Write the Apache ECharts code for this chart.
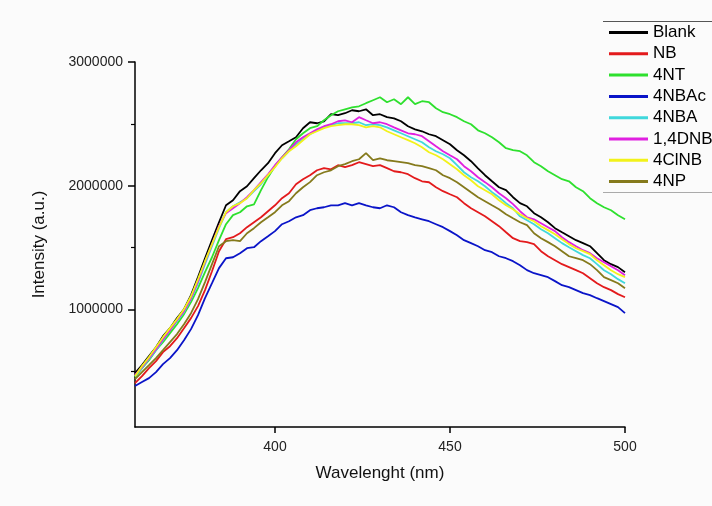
<!DOCTYPE html>
<html>
<head>
<meta charset="utf-8">
<script src="https://cdn.jsdelivr.net/npm/echarts@6/dist/echarts.min.js"></script>
<style>
html,body{margin:0;padding:0;background:#fbfbfb;}
#c{width:712px;height:506px;}
</style>
</head>
<body>
<div id="c"></div>
<script>
const wavelengths = [360,362,364,366,368,370,372,374,376,378,380,382,384,386,388,390,392,394,396,398,400,402,404,406,408,410,412,414,416,418,420,422,424,426,428,430,432,434,436,438,440,442,444,446,448,450,452,454,456,458,460,462,464,466,468,470,472,474,476,478,480,482,484,486,488,490,492,494,496,498,500];

const blank = [486000,550000,623000,695000,784000,849000,930000,1002000,1116000,1261000,1414000,1560000,1705000,1842000,1883000,1956000,1996000,2061000,2125000,2182000,2263000,2327000,2359000,2392000,2465000,2513000,2505000,2521000,2578000,2570000,2586000,2610000,2602000,2618000,2570000,2578000,2554000,2545000,2521000,2481000,2456000,2440000,2416000,2400000,2368000,2335000,2287000,2246000,2198000,2141000,2085000,2036000,1988000,1964000,1907000,1859000,1834000,1778000,1745000,1705000,1657000,1624000,1592000,1560000,1536000,1511000,1455000,1398000,1366000,1342000,1301000];

const nb = [405000,461000,526000,582000,655000,703000,768000,849000,930000,1027000,1156000,1309000,1471000,1568000,1584000,1616000,1665000,1705000,1745000,1794000,1842000,1899000,1939000,2012000,2053000,2085000,2125000,2142000,2133000,2166000,2150000,2166000,2190000,2174000,2158000,2166000,2142000,2117000,2109000,2093000,2061000,2036000,2028000,1988000,1956000,1931000,1907000,1859000,1818000,1786000,1753000,1713000,1673000,1624000,1576000,1552000,1544000,1528000,1471000,1430000,1398000,1366000,1342000,1318000,1293000,1253000,1212000,1180000,1156000,1124000,1099000];

const nt4 = [453000,526000,590000,671000,736000,809000,881000,962000,1059000,1172000,1301000,1422000,1560000,1689000,1762000,1786000,1834000,1850000,1964000,2069000,2158000,2230000,2295000,2376000,2424000,2465000,2481000,2529000,2570000,2602000,2618000,2634000,2642000,2667000,2691000,2715000,2675000,2699000,2659000,2715000,2659000,2683000,2675000,2626000,2594000,2578000,2554000,2521000,2497000,2448000,2424000,2392000,2351000,2303000,2287000,2279000,2246000,2190000,2158000,2117000,2085000,2053000,2036000,1988000,1956000,1899000,1859000,1826000,1802000,1762000,1729000];

const nbac4 = [381000,413000,445000,494000,558000,607000,671000,752000,841000,954000,1091000,1212000,1334000,1414000,1422000,1455000,1495000,1503000,1552000,1592000,1633000,1689000,1713000,1745000,1762000,1802000,1818000,1826000,1842000,1842000,1859000,1842000,1859000,1842000,1826000,1818000,1842000,1826000,1786000,1762000,1745000,1729000,1713000,1689000,1665000,1633000,1600000,1560000,1536000,1511000,1479000,1463000,1430000,1414000,1390000,1358000,1318000,1293000,1277000,1261000,1229000,1196000,1180000,1156000,1132000,1116000,1091000,1067000,1043000,1019000,970000];

const nba4 = [461000,526000,599000,671000,752000,833000,905000,978000,1083000,1212000,1366000,1511000,1657000,1786000,1834000,1867000,1899000,1956000,2012000,2085000,2158000,2222000,2279000,2335000,2376000,2416000,2448000,2472000,2489000,2505000,2505000,2505000,2513000,2489000,2497000,2489000,2472000,2448000,2424000,2400000,2376000,2351000,2311000,2279000,2254000,2222000,2166000,2109000,2069000,2036000,1996000,1948000,1907000,1859000,1818000,1753000,1721000,1689000,1649000,1616000,1576000,1536000,1503000,1471000,1439000,1414000,1366000,1317000,1285000,1245000,1212000];

const dnb14 = [469000,534000,607000,679000,760000,833000,914000,986000,1091000,1229000,1382000,1528000,1673000,1778000,1818000,1859000,1907000,1964000,2029000,2093000,2166000,2230000,2287000,2351000,2392000,2424000,2456000,2481000,2497000,2521000,2529000,2513000,2554000,2529000,2505000,2513000,2497000,2472000,2448000,2424000,2416000,2400000,2360000,2319000,2279000,2246000,2214000,2158000,2117000,2069000,2029000,1988000,1939000,1899000,1851000,1794000,1745000,1729000,1697000,1665000,1633000,1584000,1544000,1511000,1479000,1455000,1414000,1382000,1350000,1317000,1277000];

const clnb4 = [461000,542000,615000,695000,776000,849000,922000,1002000,1107000,1245000,1390000,1528000,1665000,1786000,1834000,1859000,1899000,1964000,2020000,2085000,2150000,2222000,2279000,2319000,2368000,2416000,2440000,2465000,2481000,2489000,2497000,2497000,2489000,2472000,2481000,2472000,2440000,2416000,2392000,2368000,2343000,2311000,2271000,2246000,2214000,2174000,2133000,2085000,2044000,1996000,1964000,1931000,1883000,1842000,1810000,1770000,1737000,1713000,1673000,1641000,1608000,1568000,1528000,1495000,1471000,1447000,1398000,1358000,1317000,1285000,1261000];

const np4 = [437000,494000,550000,607000,671000,736000,801000,881000,970000,1083000,1221000,1366000,1511000,1552000,1560000,1552000,1616000,1657000,1705000,1745000,1786000,1842000,1875000,1939000,1988000,2029000,2085000,2109000,2125000,2158000,2174000,2198000,2214000,2263000,2206000,2222000,2206000,2198000,2190000,2182000,2166000,2158000,2142000,2125000,2085000,2061000,2028000,1988000,1947000,1907000,1875000,1842000,1810000,1770000,1737000,1705000,1681000,1616000,1576000,1544000,1511000,1471000,1430000,1414000,1398000,1366000,1318000,1261000,1237000,1212000,1172000];

const seriesNames = ["Blank","NB","4NT","4NBAc","4NBA","1,4DNB","4ClNB","4NP"];
const seriesValues = [blank, nb, nt4, nbac4, nba4, dnb14, clnb4, np4];
const seriesColors = ["#000000","#e31a1c","#2ee02e","#0a14c8","#40d8dc","#e020e0","#f2f21a","#857a1c"];

const xTickLabels = [400, 450, 500];
const yTickLabels = [1000000, 2000000, 3000000];
const yMinorTicks = [500000, 1500000, 2500000];

const FONT = "'Liberation Sans', Arial, sans-serif";

const chart = echarts.init(document.getElementById('c'), null, {renderer: 'canvas'});

const series = seriesNames.map((name, i) => ({
  name: name,
  type: 'line',
  xAxisIndex: 0,
  yAxisIndex: 0,
  symbol: 'none',
  showSymbol: false,
  data: wavelengths.map((w, j) => [w, seriesValues[i][j]]),
  lineStyle: {width: 1.8, color: seriesColors[i]},
  itemStyle: {color: seriesColors[i]},
  emphasis: {disabled: true},
  z: 2 + i
}));

chart.setOption({
  animation: false,
  backgroundColor: '#fbfbfb',
  textStyle: {fontFamily: FONT},
  grid: {left: 135, top: 62, width: 490, height: 365, containLabel: false},
  xAxis: {
    type: 'value',
    min: 360,
    max: 500,
    name: 'Wavelenght (nm)',
    nameLocation: 'middle',
    nameGap: 38,
    nameTextStyle: {fontSize: 17, color: '#111', fontFamily: FONT},
    axisLine: {show: true, onZero: false, lineStyle: {color: '#000', width: 1.5}},
    axisTick: {show: true, inside: false, length: 6, customValues: xTickLabels, lineStyle: {color: '#000', width: 1.5}},
    axisLabel: {show: true, margin: 13, fontSize: 14, color: '#222', fontFamily: FONT, customValues: xTickLabels, formatter: v => String(v)},
    splitLine: {show: false}
  },
  yAxis: [{
    type: 'value',
    position: 'left',
    min: 50000,
    max: 3000000,
    name: 'Intensity (a.u.)',
    nameLocation: 'middle',
    nameGap: 87,
    nameRotate: 90,
    nameTextStyle: {fontSize: 17, color: '#111', fontFamily: FONT},
    axisLine: {show: true, onZero: false, lineStyle: {color: '#000', width: 1.5}},
    axisTick: {show: true, inside: false, length: 7, customValues: yTickLabels, lineStyle: {color: '#000', width: 1.5}},
    axisLabel: {show: true, margin: 12, fontSize: 14, color: '#222', fontFamily: FONT, customValues: yTickLabels, formatter: v => String(v)},
    splitLine: {show: false}
  }, {
    type: 'value',
    position: 'left',
    offset: 0,
    min: 50000,
    max: 3000000,
    axisLine: {show: false},
    axisTick: {show: true, inside: false, length: 4, customValues: yMinorTicks, lineStyle: {color: '#000', width: 1.2}},
    axisLabel: {show: false},
    splitLine: {show: false}
  }],
  legend: {
    orient: 'vertical',
    left: 609,
    top: 24,
    padding: 0,
    itemGap: 4.3,
    itemWidth: 39,
    itemHeight: 3,
    icon: 'rect',
    selectedMode: false,
    data: seriesNames,
    textStyle: {fontSize: 17, color: '#000', fontFamily: FONT, lineHeight: 17}
  },
  graphic: [
    {type: 'line', shape: {x1: 603, y1: 21.5, x2: 712, y2: 21.5}, style: {stroke: '#555', lineWidth: 1}},
    {type: 'line', shape: {x1: 603, y1: 192.5, x2: 712, y2: 192.5}, style: {stroke: '#aaa', lineWidth: 1}}
  ],
  series: series
});
</script>
</body>
</html>
